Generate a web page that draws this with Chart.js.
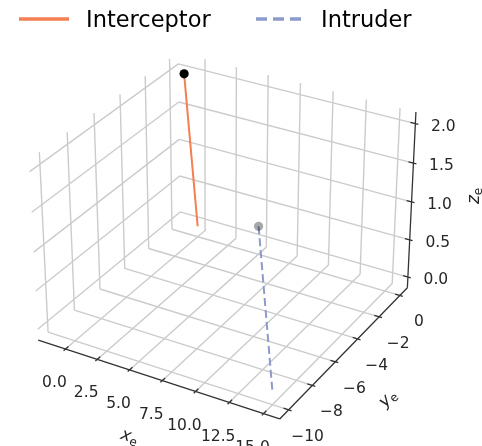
<!DOCTYPE html>
<html>
<head>
<meta charset="utf-8">
<script src="https://cdn.jsdelivr.net/npm/chart.js@4.4.0/dist/chart.umd.min.js"></script>
<style>
  html, body { margin: 0; padding: 0; background: #fff; }
</style>
</head>
<body>
<canvas id="graphique-3d" width="482" height="446"></canvas>
<script>
// Graduations des trois axes
const ticksX = [0, 2.5, 5, 7.5, 10, 12.5, 15];
const ticksY = [-10, -8, -6, -4, -2, 0];
const ticksZ = [0, 0.5, 1, 1.5, 2];
const labelsX = ["0.0", "2.5", "5.0", "7.5", "10.0", "12.5", "15.0"];
const labelsY = ["\u221210", "\u22128", "\u22126", "\u22124", "\u22122", "0"];
const labelsZ = ["0.0", "0.5", "1.0", "1.5", "2.0"];

// Limites des axes (marges de matplotlib comprises)
const limitesX = [-2.167, 16.167];
const limitesY = [-10.729, 0.729];
const limitesZ = [-0.146, 2.146];

// Trajectoires
const intercepteurX = [-1, 0];
const intercepteurY = [0, 0];
const intercepteurZ = [2, 0];
const intrusX = [5, 15];
const intrusY = [0, -10];
const intrusZ = [0.24, 0];

// Vue 3D (elev 30, azim -60, perspective)
const ELEVATION = 30;
const AZIMUT = -60;
const DISTANCE = 10;
const ECHELLE_X = 2203;
const ECHELLE_Y = 2185;
const CENTRE_X = 226.4;
const CENTRE_Y = 226.5;

const aspect = [4, 4, 3];
const boite = aspect.map((a) => a * 0.31375);
const el = (ELEVATION * Math.PI) / 180;
const az = (AZIMUT * Math.PI) / 180;
const w = [Math.cos(el) * Math.cos(az), Math.cos(el) * Math.sin(az), Math.sin(el)];
const u = [-Math.sin(az), Math.cos(az), 0];
const v = [-Math.sin(el) * Math.cos(az), -Math.sin(el) * Math.sin(az), Math.cos(el)];

function produit(a, b) {
  return a[0] * b[0] + a[1] * b[1] + a[2] * b[2];
}

function projeter(x, y, z) {
  const q = [
    ((x - limitesX[0]) / (limitesX[1] - limitesX[0]) - 0.5) * boite[0],
    ((y - limitesY[0]) / (limitesY[1] - limitesY[0]) - 0.5) * boite[1],
    ((z - limitesZ[0]) / (limitesZ[1] - limitesZ[0]) - 0.5) * boite[2],
  ];
  const profondeur = DISTANCE - produit(w, q);
  return { x: produit(u, q) / profondeur, y: produit(v, q) / profondeur };
}

function segment(a, b) {
  return [projeter(a[0], a[1], a[2]), projeter(b[0], b[1], b[2]), { x: null, y: null }];
}

const [x0, x1] = limitesX;
const [y0, y1] = limitesY;
const [z0, z1] = limitesZ;

// Grille sur les trois panneaux du fond
const grille = [];
for (const ty of ticksY) grille.push(...segment([x0, ty, z0], [x0, ty, z1]));
for (const tz of ticksZ) grille.push(...segment([x0, y0, tz], [x0, y1, tz]));
for (const tx of ticksX) grille.push(...segment([tx, y1, z0], [tx, y1, z1]));
for (const tz of ticksZ) grille.push(...segment([x0, y1, tz], [x1, y1, tz]));
for (const tx of ticksX) grille.push(...segment([tx, y0, z0], [tx, y1, z0]));
for (const ty of ticksY) grille.push(...segment([x0, ty, z0], [x1, ty, z0]));

// Lignes des axes et petites graduations
const axes = [
  ...segment([x0, y0, z0], [x1, y0, z0]),
  ...segment([x1, y0, z0], [x1, y1, z0]),
  ...segment([x1, y1, z0], [x1, y1, z1]),
];
const dx = x1 - x0;
const dy = y1 - y0;
const graduations = [];
for (const tx of ticksX) graduations.push(...segment([tx, y0 + 0.02 * dy, z0], [tx, y0 - 0.012 * dy, z0]));
for (const ty of ticksY) graduations.push(...segment([x1 - 0.02 * dx, ty, z0], [x1 + 0.012 * dx, ty, z0]));
for (const tz of ticksZ) graduations.push(...segment([x1 - 0.02 * dx, y1, tz], [x1 + 0.012 * dx, y1, tz]));

const traceIntercepteur = intercepteurX.map((x, i) => projeter(x, intercepteurY[i], intercepteurZ[i]));
const traceIntrus = intrusX.map((x, i) => projeter(x, intrusY[i], intrusZ[i]));
const departs = [traceIntercepteur[0], traceIntrus[0]];

const COULEUR_INTERCEPTEUR = "#f47f50";
const COULEUR_INTRUS = "#8c9bcb";

function ecrireLabelAxe(ctx, lettre, cx, cy, angle) {
  ctx.save();
  ctx.translate(cx, cy);
  ctx.rotate(angle);
  ctx.fillStyle = "#262626";
  ctx.textBaseline = "alphabetic";
  ctx.textAlign = "left";
  ctx.font = "italic 17px 'DejaVu Sans'";
  const largeur = ctx.measureText(lettre).width;
  ctx.font = "12px 'DejaVu Sans'";
  const largeurE = ctx.measureText("e").width;
  const depart = -(largeur + largeurE) / 2;
  ctx.font = "italic 17px 'DejaVu Sans'";
  ctx.fillText(lettre, depart, 5);
  ctx.font = "12px 'DejaVu Sans'";
  ctx.fillText("e", depart + largeur, 8);
  ctx.restore();
}

// Textes des axes 3D et légende
const textes3D = {
  id: "textes3D",
  afterDraw(chart) {
    const ctx = chart.ctx;
    const sx = chart.scales.x;
    const sy = chart.scales.y;
    const pixel = (x, y, z) => {
      const p = projeter(x, y, z);
      return [sx.getPixelForValue(p.x), sy.getPixelForValue(p.y)];
    };

    ctx.save();
    ctx.fillStyle = "#262626";
    ctx.font = "15.5px 'DejaVu Sans'";
    ctx.textAlign = "center";
    ctx.textBaseline = "middle";
    ticksX.forEach((tx, i) => {
      const [px, py] = pixel(tx, y0, z0);
      ctx.fillText(labelsX[i], px - 11, py + 34);
    });
    ticksY.forEach((ty, i) => {
      const [px, py] = pixel(x1, ty, z0);
      ctx.fillText(labelsY[i], px + 19, py + 27);
    });
    ticksZ.forEach((tz, i) => {
      const [px, py] = pixel(x1, y1, tz);
      ctx.fillText(labelsZ[i], px + 28, py + 3);
    });
    ctx.restore();

    // Labels des axes, tournés comme les axes
    const angle = (a, b) => Math.atan2(b[1] - a[1], b[0] - a[0]);
    const ax = [pixel(x0, y0, z0), pixel(x1, y0, z0)];
    const ay = [pixel(x1, y0, z0), pixel(x1, y1, z0)];
    const mx = pixel((x0 + x1) / 2, y0, z0);
    const my = pixel(x1, (y0 + y1) / 2, z0);
    const mz = pixel(x1, y1, (z0 + z1) / 2);
    ecrireLabelAxe(ctx, "x", mx[0] - 26, mx[1] + 58, angle(ax[0], ax[1]));
    ecrireLabelAxe(ctx, "y", my[0] + 41, my[1] + 48, angle(ay[0], ay[1]));
    ecrireLabelAxe(ctx, "z", mz[0] + 62, mz[1] - 6, -Math.PI / 2);

    // Légende
    ctx.save();
    ctx.lineWidth = 3.5;
    ctx.strokeStyle = COULEUR_INTERCEPTEUR;
    ctx.beginPath();
    ctx.moveTo(19, 19);
    ctx.lineTo(69, 19);
    ctx.stroke();
    ctx.strokeStyle = COULEUR_INTRUS;
    ctx.setLineDash([11, 6]);
    ctx.beginPath();
    ctx.moveTo(256, 19);
    ctx.lineTo(302, 19);
    ctx.stroke();
    ctx.setLineDash([]);
    ctx.fillStyle = "#000";
    ctx.font = "22.5px 'DejaVu Sans'";
    ctx.textAlign = "left";
    ctx.textBaseline = "alphabetic";
    ctx.fillText("Interceptor", 86, 27);
    ctx.fillText("Intruder", 321, 27);
    ctx.restore();
  },
};

const config = {
  type: "scatter",
  data: {
    datasets: [
      {
        label: "Départs",
        data: departs,
        pointRadius: 4.6,
        pointBorderWidth: 0,
        pointBackgroundColor: ["#000000", "rgba(0, 0, 0, 0.34)"],
        order: 1,
      },
      {
        label: "Interceptor",
        data: traceIntercepteur,
        showLine: true,
        borderColor: COULEUR_INTERCEPTEUR,
        borderWidth: 2,
        pointRadius: 0,
        order: 2,
      },
      {
        label: "Intruder",
        data: traceIntrus,
        showLine: true,
        borderColor: COULEUR_INTRUS,
        borderWidth: 2,
        borderDash: [8, 4],
        pointRadius: 0,
        order: 3,
      },
      {
        label: "Axes",
        data: axes.concat(graduations),
        showLine: true,
        borderColor: "#333333",
        borderWidth: 1.3,
        pointRadius: 0,
        order: 4,
      },
      {
        label: "Grille",
        data: grille,
        showLine: true,
        borderColor: "#cbcbcb",
        borderWidth: 1.4,
        pointRadius: 0,
        order: 5,
      },
    ],
  },
  options: {
    responsive: false,
    animation: false,
    devicePixelRatio: 1,
    layout: { padding: 0, autoPadding: false },
    plugins: {
      legend: { display: false },
      tooltip: { enabled: false },
    },
    scales: {
      x: {
        type: "linear",
        display: false,
        min: -CENTRE_X / ECHELLE_X,
        max: (482 - CENTRE_X) / ECHELLE_X,
      },
      y: {
        type: "linear",
        display: false,
        min: -(446 - CENTRE_Y) / ECHELLE_Y,
        max: CENTRE_Y / ECHELLE_Y,
      },
    },
  },
  plugins: [textes3D],
};

new Chart(document.querySelector("#graphique-3d"), config);
</script>
</body>
</html>
